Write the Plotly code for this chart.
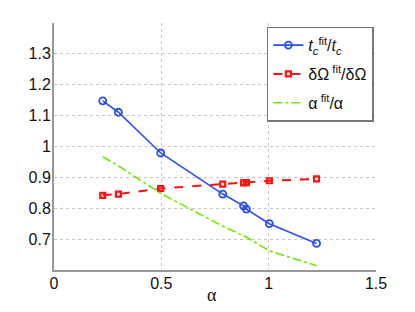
import plotly.graph_objects as go

alpha = [0.227, 0.30, 0.497, 0.786, 0.883, 0.896, 1.003, 1.223]
tc_ratio = [1.148, 1.111, 0.979, 0.846, 0.808, 0.797, 0.750, 0.686]
domega_ratio = [0.842, 0.846, 0.864, 0.878, 0.882, 0.883, 0.889, 0.895]
alpha_ratio = [0.967, 0.937, 0.848, 0.742, 0.711, 0.707, 0.662, 0.614]

x_ticks = [0, 0.5, 1, 1.5]
x_ticktext = ["0", "0.5", "1", "1.5"]
y_ticks = [0.7, 0.8, 0.9, 1.0, 1.1, 1.2, 1.3]
y_ticktext = ["0.7", "0.8", "0.9", "1", "1.1", "1.2", "1.3"]

names = [
    "<i>t</i><sub><i>c</i></sub><sup>fit</sup>/<i>t</i><sub><i>c</i></sub>",
    "δΩ<sup> fit</sup>/δΩ",
    "α<sup> fit</sup>/α",
]

fig = go.Figure()
fig.add_trace(go.Scatter(
    x=alpha, y=tc_ratio, name=names[0], mode="lines+markers",
    line=dict(color="#2b4ef0", width=1.6),
    marker=dict(symbol="circle-open", size=7, color="#2b4ef0", line=dict(width=1.8)),
    legendgroup="a"))
fig.add_trace(go.Scatter(
    x=alpha, y=domega_ratio, name=names[1], mode="lines+markers",
    line=dict(color="#ff1010", width=2, dash="dash"),
    marker=dict(symbol="square-open", size=5, color="#ff1010", line=dict(width=2.2)),
    legendgroup="b"))
fig.add_trace(go.Scatter(
    x=alpha, y=alpha_ratio, name=names[2], mode="lines",
    line=dict(color="#6ee80a", width=1.6, dash="dashdot"),
    legendgroup="c"))

axis_common = dict(
    showgrid=True, gridcolor="#c8c8c8", griddash="dot", gridwidth=1,
    zeroline=False, showline=True, linecolor="#999999", linewidth=2,
    ticks="", ticklabelstandoff=-2,
    tickfont=dict(family="Liberation Sans, Arial", size=16, color="#111111"),
)

fig.update_layout(
    width=415, height=312,
    margin=dict(l=54, r=39, t=23, b=42),
    paper_bgcolor="white", plot_bgcolor="white",
    xaxis=dict(range=[0, 1.5], tickvals=x_ticks, ticktext=x_ticktext, **axis_common),
    yaxis=dict(range=[0.6, 1.4], tickvals=y_ticks, ticktext=y_ticktext, **axis_common),
    showlegend=True,
    legend=dict(
        x=0.661, y=0.985, xanchor="left", yanchor="top",
        bgcolor="white", bordercolor="#777777", borderwidth=1.5,
        font=dict(family="Liberation Sans, Arial", size=16, color="#111111"),
        tracegroupgap=5,
    ),
    annotations=[dict(
        text="α", x=0.49, y=0, xref="paper", yref="paper",
        xanchor="center", yanchor="middle", yshift=-25, showarrow=False,
        font=dict(family="Liberation Serif, Times New Roman", size=18, color="#111111"),
    )],
)

fig.write_html("out.html", config={"displayModeBar": False},
               post_script="document.body.style.margin='0';")
